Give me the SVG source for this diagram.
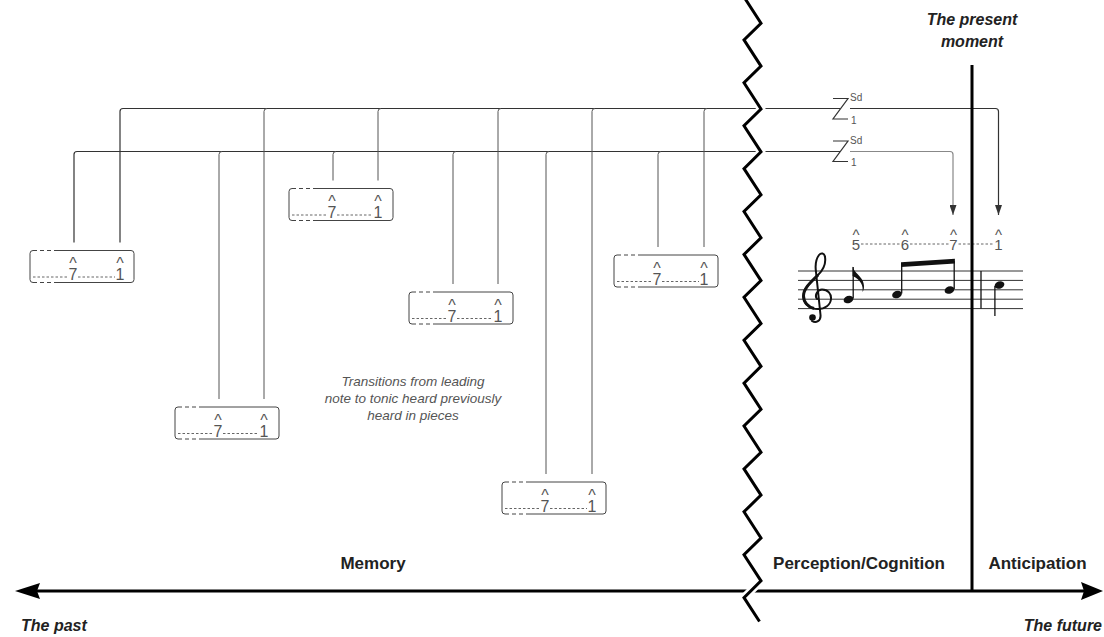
<svg xmlns="http://www.w3.org/2000/svg" xmlns:xlink="http://www.w3.org/1999/xlink" width="1104" height="637" viewBox="0 0 1104 637">
<style>
.ln{fill:none;stroke:#333;stroke-width:1.2}
.ln2{fill:none;stroke:#888;stroke-width:1.2}
.vt{fill:none;stroke:#555;stroke-width:1}
.bx{fill:none;stroke:#444;stroke-width:1}
.bxd{fill:none;stroke:#444;stroke-width:1;stroke-dasharray:4 3}
.dt{fill:none;stroke:#666;stroke-width:1;stroke-dasharray:2.5 2}
.sd{font-family:"Liberation Sans",Arial,sans-serif;font-size:16px;fill:#555;text-anchor:middle}
.sm{font-family:"Liberation Sans",Arial,sans-serif;font-size:15px;fill:#555;text-anchor:middle}
.z{font-family:"Liberation Sans",Arial,sans-serif;font-size:10px;fill:#555}
.lbl{font-family:"Liberation Sans",Arial,sans-serif;font-size:17px;font-weight:bold;fill:#222;text-anchor:middle}
.ttl{font-family:"Liberation Sans",Arial,sans-serif;font-size:16px;font-weight:bold;font-style:italic;fill:#222}
.cap{font-family:"Liberation Sans",Arial,sans-serif;font-size:13.5px;font-style:italic;fill:#555;text-anchor:middle}
.st{fill:none;stroke:#333;stroke-width:1}
.stem{fill:none;stroke:#111;stroke-width:1.3}
</style>
<defs>
<marker id="ah" markerWidth="10" markerHeight="7" refX="10" refY="3.5" orient="auto" markerUnits="userSpaceOnUse">
<path d="M0,0 L10,3.5 L0,7 z" fill="#333"/>
</marker>
<g id="frame">
<path class="bx" d="M28 0 H101 Q104 0 104 3 V29 Q104 32 101 32 H28"/>
<path class="bx" d="M3 0 Q0 0 0 3 V29 Q0 32 3 32"/>
<path class="bxd" d="M3 0 H28 M3 32 H28"/>
</g>
</defs>

<g id="connectors">
<path class="ln" d="M120 242.5 V111.5 Q120 108.5 123 108.5 H840"/>
<path class="ln" d="M850 108.5 H995.5 Q998.5 108.5 998.5 111.5 V215" marker-end="url(#ah)"/>
<path class="ln" d="M74 242.5 V154.5 Q74 151.5 77 151.5 H840"/>
<path class="ln2" d="M850 151.5 H950 Q953 151.5 953 154.5 V215" marker-end="url(#ah)"/>
<path class="vt" d="M264 399 V111.5 Q264 108.5 267 108.5"/>
<path class="vt" d="M378 180.5 V111.5 Q378 108.5 381 108.5"/>
<path class="vt" d="M498 284 V111.5 Q498 108.5 501 108.5"/>
<path class="vt" d="M592 474 V111.5 Q592 108.5 595 108.5"/>
<path class="vt" d="M704 247 V111.5 Q704 108.5 707 108.5"/>
<path class="vt" d="M219 399 V154.5 Q219 151.5 222 151.5"/>
<path class="vt" d="M333 180.5 V154.5 Q333 151.5 336 151.5"/>
<path class="vt" d="M453 284 V154.5 Q453 151.5 456 151.5"/>
<path class="vt" d="M546 474 V154.5 Q546 151.5 549 151.5"/>
<path class="vt" d="M658 247 V154.5 Q658 151.5 661 151.5"/>
</g>

<g id="z-top">
<path class="ln" d="M833 98.5 H848 L833 119 H848"/>
<text class="z" x="850" y="101">Sd</text>
<text class="z" x="851" y="123.5">1</text>
</g>
<g id="z-bottom">
<path class="ln" d="M833 141 H848 L833 161.5 H848"/>
<text class="z" x="850" y="143.5">Sd</text>
<text class="z" x="851" y="165.5">1</text>
</g>

<g id="box-a">
<use xlink:href="#frame" href="#frame" x="30" y="250.5"/>
<text class="sd" x="73" y="269">^</text><text class="sd" x="120" y="269">^</text>
<text class="sd" x="73" y="280">7</text><text class="sd" x="120" y="280">1</text>
<path class="dt" d="M33 277 H68.5 M78 277 H115"/>
</g>
<g id="box-b">
<use xlink:href="#frame" href="#frame" x="289" y="188.5"/>
<text class="sd" x="332" y="207">^</text><text class="sd" x="378" y="207">^</text>
<text class="sd" x="332" y="218">7</text><text class="sd" x="378" y="218">1</text>
<path class="dt" d="M292 215 H327.5 M337 215 H373"/>
</g>
<g id="box-c">
<use xlink:href="#frame" href="#frame" x="175" y="407"/>
<text class="sd" x="218" y="425.5">^</text><text class="sd" x="264" y="425.5">^</text>
<text class="sd" x="218" y="436.5">7</text><text class="sd" x="264" y="436.5">1</text>
<path class="dt" d="M178 433.5 H213.5 M223 433.5 H259"/>
</g>
<g id="box-d">
<use xlink:href="#frame" href="#frame" x="409" y="292"/>
<text class="sd" x="452" y="310.5">^</text><text class="sd" x="498" y="310.5">^</text>
<text class="sd" x="452" y="321.5">7</text><text class="sd" x="498" y="321.5">1</text>
<path class="dt" d="M412 318.5 H447.5 M457 318.5 H493"/>
</g>
<g id="box-e">
<use xlink:href="#frame" href="#frame" x="502" y="482"/>
<text class="sd" x="545" y="500.5">^</text><text class="sd" x="592" y="500.5">^</text>
<text class="sd" x="545" y="511.5">7</text><text class="sd" x="592" y="511.5">1</text>
<path class="dt" d="M505 508.5 H540.5 M550 508.5 H587"/>
</g>
<g id="box-f">
<use xlink:href="#frame" href="#frame" x="614" y="255"/>
<text class="sd" x="657" y="273.5">^</text><text class="sd" x="704" y="273.5">^</text>
<text class="sd" x="657" y="284.5">7</text><text class="sd" x="704" y="284.5">1</text>
<path class="dt" d="M617 281.5 H652.5 M662 281.5 H699"/>
</g>

<g id="caption">
<text class="cap" x="413" y="385.5">Transitions from leading</text>
<text class="cap" x="413" y="402.5">note to tonic heard previously</text>
<text class="cap" x="413" y="419.5">heard in pieces</text>
</g>

<g id="music">
<text class="sm" x="856" y="240">^</text><text class="sm" x="905" y="240">^</text><text class="sm" x="953.5" y="240">^</text><text class="sm" x="998.5" y="240">^</text>
<text class="sm" x="856" y="249.5">5</text><text class="sm" x="905" y="249.5">6</text><text class="sm" x="953.5" y="249.5">7</text><text class="sm" x="998.5" y="249.5">1</text>
<path class="dt" d="M861 244 H900 M910 244 H948.5 M958.5 244 H994.5"/>
<path class="st" d="M798 271 H1023 M798 280.4 H1023 M798 289.8 H1023 M798 299.2 H1023 M798 308.6 H1023"/>
<path fill="none" stroke="#111" stroke-width="2" stroke-linecap="round" d="M817 299 C814 295 818 289.5 822 289.5 C828 289.5 831.5 294 831 299 C830.5 305 825 309 818 309 C809 309 803.5 303 803.5 296 C803.5 288 812 281 818 275 C823 270 826 263 825 257 C824.5 253 821 252.5 819 255 C816 259 815 265 816 272 L820.5 315 C821 321 816 323.5 812 321"/>
<path fill="none" stroke="#111" stroke-width="3" d="M814 308.5 C808 307 803.5 302 803.5 296 C803.5 288 812 281 818 275"/>
<circle cx="812.5" cy="317.5" r="3.3" fill="#111"/>
<ellipse cx="848.5" cy="299.5" rx="5" ry="3.6" transform="rotate(-20 848.5 299.5)" fill="#111"/>
<path class="stem" d="M853.2 298.5 V267"/>
<path fill="#111" d="M852.6 266.5 C854 273 862 276 863.5 283 C864.5 287 864 290 862.5 292 C863.5 286 861 280 852.6 276 Z"/>
<ellipse cx="897" cy="294.5" rx="5" ry="3.6" transform="rotate(-20 897 294.5)" fill="#111"/>
<path class="stem" d="M901.7 293.5 V264"/>
<ellipse cx="949.5" cy="290" rx="5" ry="3.6" transform="rotate(-20 949.5 290)" fill="#111"/>
<path class="stem" d="M954.2 289 V261"/>
<path fill="#111" d="M901 262.3 L954.9 258.8 L954.9 263.4 L901 266.9 Z"/>
<path class="stem" d="M981 271 V308.6"/>
<ellipse cx="999.5" cy="285" rx="5" ry="3.6" transform="rotate(-20 999.5 285)" fill="#111"/>
<path class="stem" d="M994.9 286 V316"/>
</g>

<g id="axis">
<path d="M36 591 H1084" fill="none" stroke="#000" stroke-width="3"/>
<path d="M15 591 L40 583 L37 591 L40 599 Z" fill="#000"/>
<path d="M1103 591 L1081 582 L1084 591 L1081 600 Z" fill="#000"/>
</g>

<g id="present-moment">
<path d="M972 65 V591" fill="none" stroke="#000" stroke-width="3"/>
<text class="ttl" x="972" y="25" text-anchor="middle">The present</text>
<text class="ttl" x="972" y="46.5" text-anchor="middle">moment</text>
</g>

<g id="zigzag">
<path fill="none" stroke="#fff" stroke-width="8" stroke-linejoin="miter" d="M744 -3 L761 23.2 L744 39.9 L761 66.1 L744 82.8 L761 109 L744 125.7 L761 151.9 L744 168.6 L761 194.8 L744 211.5 L761 237.7 L744 254.4 L761 280.6 L744 297.3 L761 323.5 L744 340.2 L761 366.4 L744 383.1 L761 409.3 L744 426 L761 452.2 L744 468.9 L761 495.1 L744 511.8 L761 538 L744 554.7 L761 580.9 L744 597.6 L759.5 621.5"/>
<path fill="none" stroke="#000" stroke-width="3" stroke-linejoin="miter" d="M744 -3 L761 23.2 L744 39.9 L761 66.1 L744 82.8 L761 109 L744 125.7 L761 151.9 L744 168.6 L761 194.8 L744 211.5 L761 237.7 L744 254.4 L761 280.6 L744 297.3 L761 323.5 L744 340.2 L761 366.4 L744 383.1 L761 409.3 L744 426 L761 452.2 L744 468.9 L761 495.1 L744 511.8 L761 538 L744 554.7 L761 580.9 L744 597.6 L759.5 621.5"/>
</g>

<g id="labels">
<text class="lbl" x="373" y="569">Memory</text>
<text class="lbl" x="859" y="569">Perception/Cognition</text>
<text class="lbl" x="1037.5" y="569">Anticipation</text>
<text class="ttl" x="21" y="630.5">The past</text>
<text class="ttl" x="1102" y="630.5" text-anchor="end">The future</text>
</g>
</svg>
